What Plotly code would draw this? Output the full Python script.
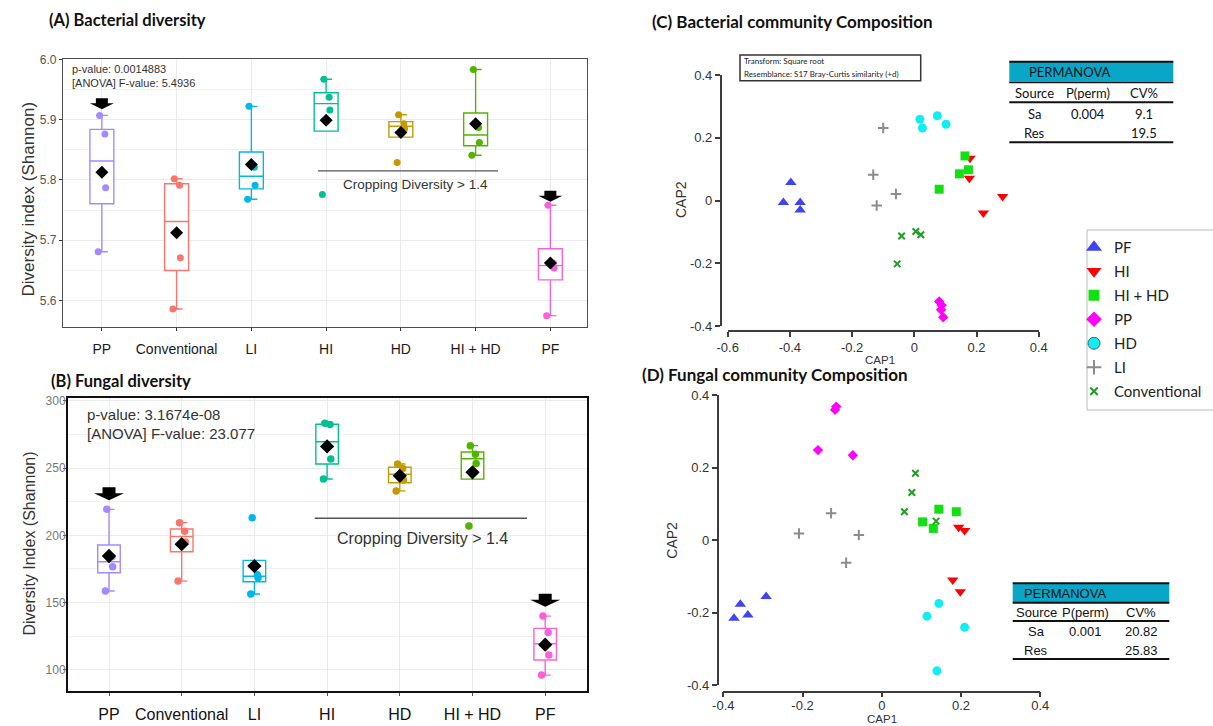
import numpy as np
import plotly.graph_objects as go

W, H = 1213, 726
def px(x): return x / W
def py(y): return 1 - y / H

# ---------------- data ----------------
categories = ['PP', 'Conventional', 'LI', 'HI', 'HD', 'HI + HD', 'PF']

# (A) bacterial Shannon diversity, 4 replicates per system (same order as categories)
bacterial_shannon = [
    [5.681, 5.787, 5.876, 5.907],
    [5.586, 5.671, 5.791, 5.802],
    [5.768, 5.791, 5.821, 5.922],
    [5.776, 5.916, 5.937, 5.967],
    [5.829, 5.885, 5.893, 5.908],
    [5.841, 5.862, 5.887, 5.983],
    [5.575, 5.654, 5.662, 5.758],
]
# (B) fungal diversity index
fungal_index = [
    [158.6, 176.7, 184.0, 219.3],
    [166.0, 195.1, 203.1, 209.4],
    [156.4, 168.5, 170.8, 213.1],
    [241.8, 256.7, 282.3, 283.2],
    [233.0, 241.1, 249.7, 253.0],
    [206.9, 253.4, 260.3, 266.6],
    [96.2, 111.1, 127.9, 140.0],
]
bact_test_text = ['p-value: 0.0014883', '[ANOVA] F-value: 5.4936']
fung_test_text = ['p-value: 3.1674e-08', '[ANOVA] F-value: 23.077']
cropping_label = 'Cropping Diversity > 1.4'

# CAP ordinations (groups in legend order)
cap_groups = ['PF', 'HI', 'HI + HD', 'PP', 'HD', 'LI', 'Conventional']
bact_cap1 = [
    [-0.397, -0.421, -0.367, -0.367],
    [0.179, 0.177, 0.284, 0.222],
    [0.163, 0.174, 0.145, 0.080],
    [0.080, 0.088, 0.086, 0.093],
    [0.018, 0.026, 0.074, 0.102],
    [-0.100, -0.132, -0.059, -0.121],
    [-0.041, 0.005, 0.021, -0.055],
]
bact_cap2 = [
    [0.057, -0.006, -0.006, -0.030],
    [0.135, 0.071, 0.013, -0.040],
    [0.142, 0.098, 0.085, 0.036],
    [-0.322, -0.334, -0.348, -0.372],
    [0.259, 0.231, 0.270, 0.243],
    [0.231, 0.082, 0.021, -0.016],
    [-0.113, -0.099, -0.109, -0.202],
]
fung_cap1 = [
    [-0.292, -0.357, -0.338, -0.373],
    [0.194, 0.209, 0.179, 0.198],
    [0.144, 0.188, 0.103, 0.130],
    [-0.115, -0.118, -0.161, -0.073],
    [0.144, 0.114, 0.209, 0.139],
    [-0.128, -0.209, -0.058, -0.090],
    [0.085, 0.076, 0.057, 0.137],
]
fung_cap2 = [
    [-0.156, -0.177, -0.207, -0.216],
    [0.035, 0.026, -0.110, -0.143],
    [0.085, 0.078, 0.050, 0.032],
    [0.368, 0.359, 0.248, 0.234],
    [-0.175, -0.210, -0.241, -0.361],
    [0.074, 0.018, 0.014, -0.063],
    [0.184, 0.131, 0.078, 0.052],
]
cap_ticks_x_C = [-0.6, -0.4, -0.2, 0, 0.2, 0.4]
cap_ticks_x_D = [-0.4, -0.2, 0, 0.2, 0.4]
cap_ticks_y = [-0.4, -0.2, 0, 0.2, 0.4]

transform_text = ['Transform: Square root', 'Resemblance: S17 Bray-Curtis similarity (+d)']
perm_header = ['Source', 'P(perm)', 'CV%']
perm_C_rows = [['Sa', '0.004', '9.1'], ['Res', '', '19.5']]
perm_D_rows = [['Sa', '0.001', '20.82'], ['Res', '', '25.83']]

# ---------------- styles ----------------
box_colors = ['#A58AFF', '#F8766D', '#00B6EB', '#00C094', '#C49A00', '#53B400', '#FB61D7']
JIT = [-0.05, 0.05, 0.04, -0.03]
cap_symbols = ['triangle-up', 'triangle-down', 'square', 'diamond', 'circle', 'cross-thin-open', 'x-thin-open']
cap_colors = ['#3F43F2', '#FF0000', '#12E012', '#FF00FF', '#10EEF2', '#8C8C8C', '#1E9E1E']
cap_sizes = [10, 10, 9, 8, 9, 7.5, 6.5]
leg_sizes = [14, 13, 11, 12, 12, 10.5, 7.5]
SANS = 'Liberation Sans, Arial'

fig = go.Figure()


def fmt_tick(v):
    s = ('%.1f' % v).rstrip('0').rstrip('.') if v != 0 else '0'
    return s


def add_box_panel(values, xa, ya, box_w, pt_size, dia_size):
    for i, vals in enumerate(values):
        v = np.sort(np.array(vals, dtype=float))
        q1, med, q3 = np.percentile(v, [25, 50, 75])
        iqr = q3 - q1
        lf = v[v >= q1 - 1.5 * iqr].min()
        uf = v[v <= q3 + 1.5 * iqr].max()
        c = box_colors[i]
        fig.add_trace(go.Box(
            x=[i], q1=[q1], median=[med], q3=[q3], lowerfence=[lf], upperfence=[uf],
            width=box_w, whiskerwidth=0.5, fillcolor='white', boxpoints=False,
            line=dict(color=c, width=1.4), xaxis=xa, yaxis=ya,
            showlegend=False, hoverinfo='skip'))
        fig.add_trace(go.Scatter(
            x=[i + JIT[j] for j in range(len(v))], y=v, mode='markers',
            marker=dict(color=c, size=pt_size), xaxis=xa, yaxis=ya,
            showlegend=False, hoverinfo='skip'))
        fig.add_trace(go.Scatter(
            x=[i], y=[v.mean()], mode='markers',
            marker=dict(color='black', size=dia_size, symbol='diamond'),
            xaxis=xa, yaxis=ya, showlegend=False, hoverinfo='skip'))


add_box_panel(bacterial_shannon, 'x', 'y', 0.32, 7, 10)
add_box_panel(fungal_index, 'x2', 'y2', 0.31, 7.5, 11)

# CAP scatter panels
for (c1, c2, xa, ya) in [(bact_cap1, bact_cap2, 'x3', 'y3'), (fung_cap1, fung_cap2, 'x4', 'y4')]:
    for g in range(len(cap_groups)):
        open_sym = cap_symbols[g].endswith('open')
        fig.add_trace(go.Scatter(
            x=c1[g], y=c2[g], mode='markers', xaxis=xa, yaxis=ya,
            marker=dict(symbol=cap_symbols[g], size=cap_sizes[g], color=cap_colors[g],
                        line=dict(color=cap_colors[g], width=2 if open_sym else 0)),
            showlegend=False, hoverinfo='skip', cliponaxis=False))

# legend entries
for g, name in enumerate(cap_groups):
    open_sym = cap_symbols[g].endswith('open')
    lc = '#2F6F80' if cap_symbols[g] == 'circle' else cap_colors[g]
    lw = 2 if open_sym else (1 if cap_symbols[g] == 'circle' else 0)
    fig.add_trace(go.Scatter(
        x=[None], y=[None], mode='markers', name=name, legendgroup=name,
        xaxis='x3', yaxis='y3',
        marker=dict(symbol=cap_symbols[g], size=leg_sizes[g], color=cap_colors[g],
                    line=dict(color=lc, width=lw))))

# ---------------- axes ----------------
grid = '#EBEBEB'
common_cat = dict(tickvals=list(range(len(categories))), ticktext=categories,
                  showgrid=True, gridcolor=grid, gridwidth=1, zeroline=False,
                  showline=True, mirror=True, ticks='outside', automargin=False)

xaxis = dict(common_cat, domain=[px(63), px(587)], range=[-0.52, 6.49], anchor='y',
             linecolor='#4D4D4D', linewidth=1.3, ticklen=3, tickcolor='#333',
             tickfont=dict(family=SANS, size=14, color='#1A1A1A'), ticklabelstandoff=6)
yaxis = dict(domain=[py(326.7), py(59.3)], range=[5.5567, 6.0], anchor='x', automargin=False,
             tickvals=[5.6, 5.7, 5.8, 5.9, 6.0], ticktext=['5.6', '5.7', '5.8', '5.9', '6.0'],
             showgrid=True, gridcolor=grid, zeroline=False, showline=True, mirror=True,
             linecolor='#4D4D4D', linewidth=1.3, ticks='outside', ticklen=3, tickcolor='#333',
             tickfont=dict(family=SANS, size=12, color='#555'),
             minor=dict(dtick=0.05, tick0=5.6, showgrid=True, gridcolor='#F0F0F0', ticks=''))
xaxis2 = dict(common_cat, domain=[px(68), px(587)], range=[-0.564, 6.575], anchor='y2',
              linecolor='#111', linewidth=2, ticklen=3, tickcolor='#555',
              tickfont=dict(family=SANS, size=16, color='#111'), ticklabelstandoff=5)
yaxis2 = dict(domain=[py(690.7), py(398)], range=[84.6, 302], anchor='x2', automargin=False,
              tickvals=[100, 150, 200, 250, 300],
              showgrid=True, gridcolor=grid, zeroline=False, showline=True, mirror=True,
              linecolor='#111', linewidth=2, ticks='outside', ticklen=3, tickcolor='#555',
              tickfont=dict(family=SANS, size=12, color='#777'), ticklabelstandoff=-5,
              minor=dict(dtick=25, tick0=100, showgrid=True, gridcolor='#F0F0F0', ticks=''))

cap_axis = dict(showgrid=False, zeroline=False, showline=True, linecolor='#3C3C3C', linewidth=1.5,
                ticks='outside', ticklen=5, tickwidth=1.5, tickcolor='#3C3C3C', automargin=False,
                tickfont=dict(family=SANS, size=13, color='#333'), anchor='free')
xaxis3 = dict(cap_axis, domain=[px(727.7), px(1038.7)], range=[-0.6, 0.4], position=py(331),
              tickvals=cap_ticks_x_C, ticktext=[fmt_tick(v) for v in cap_ticks_x_C])
yaxis3 = dict(cap_axis, domain=[py(326), py(75)], range=[-0.4, 0.4], position=px(720.7),
              tickvals=cap_ticks_y, ticktext=[fmt_tick(v) for v in cap_ticks_y])
xaxis4 = dict(cap_axis, domain=[px(723.3), px(1040.3)], range=[-0.4, 0.4], position=py(691.7),
              tickvals=cap_ticks_x_D, ticktext=[fmt_tick(v) for v in cap_ticks_x_D],
              ticklabelstandoff=-3)
yaxis4 = dict(cap_axis, domain=[py(685), py(395)], range=[-0.4, 0.4], position=px(717.7),
              tickvals=cap_ticks_y, ticktext=[fmt_tick(v) for v in cap_ticks_y])

# ---------------- annotations & shapes ----------------
ann = []
shapes = []


def txt(x, y, s, size, color='#222', family=SANS, xanchor='center', angle=0, bold=False):
    ann.append(dict(x=px(x), y=py(y), xref='paper', yref='paper', text=('<b>%s</b>' % s) if bold else s,
                    showarrow=False, xanchor=xanchor, yanchor='middle', textangle=angle,
                    font=dict(family=family, size=size, color=color)))


def hline(x0, x1, y, w, color='#111'):
    shapes.append(dict(type='line', xref='paper', yref='paper', x0=px(x0), x1=px(x1),
                       y0=py(y), y1=py(y), line=dict(color=color, width=w)))


# panel titles
txt(47, 20, '(A) Bacterial diversity', 16.5, '#111', 'Lato', 'left', bold=True)
txt(49, 381, '(B) Fungal diversity', 16.5, '#111', 'Lato', 'left', bold=True)
txt(650, 21, '(C) Bacterial community Composition', 17, '#111', 'Lato', 'left', bold=True)
txt(640, 374, '(D) Fungal community Composition', 17, '#111', 'Lato', 'left', bold=True)

# y titles
txt(28.5, 199, 'Diversity index (Shannon)', 17, '#333', angle=-90)
txt(28.5, 544, 'Diversity Index (Shannon)', 16, '#333', angle=-90)

# test statistics
txt(70, 69.3, bact_test_text[0], 11, '#333', xanchor='left')
txt(70, 83.3, bact_test_text[1], 11, '#333', xanchor='left')
txt(85, 415, fung_test_text[0], 15, '#333', xanchor='left')
txt(85, 433.3, fung_test_text[1], 15, '#333', xanchor='left')

# cropping diversity bracket
shapes.append(dict(type='line', xref='x', yref='y', x0=2.89, x1=5.30, y0=5.815, y1=5.815,
                   line=dict(color='#555', width=1.2)))
ann.append(dict(x=4.19, y=5.793, xref='x', yref='y', text=cropping_label, showarrow=False,
                font=dict(family=SANS, size=13.5, color='#333')))
shapes.append(dict(type='line', xref='x2', yref='y2', x0=2.83, x1=5.75, y0=212.6, y1=212.6,
                   line=dict(color='#555', width=1.5)))
ann.append(dict(x=4.31, y=198, xref='x2', yref='y2', text=cropping_label, showarrow=False,
                font=dict(family=SANS, size=16, color='#333')))

# arrows (tip at anchor, pointing down)
arrow_A = 'M0,0 L-12,6 L-6,6 L-6,11 L6,11 L6,6 L12,6 Z'
arrow_B = 'M0,0 L-15,7 L-6.5,7 L-6.5,13 L6.5,13 L6.5,7 L15,7 Z'
for (xr, yr, xa, ya, path) in [('x', 'y', 0, 5.917, arrow_A), ('x', 'y', 6, 5.764, arrow_A),
                               ('x2', 'y2', 0, 226.1, arrow_B), ('x2', 'y2', 6, 147.0, arrow_B)]:
    shapes.append(dict(type='path', xref=xr, yref=yr, xsizemode='pixel', ysizemode='pixel',
                       xanchor=xa, yanchor=ya, path=path, fillcolor='black', line=dict(width=0)))

# CAP axis titles
txt(880, 360, 'CAP1', 11.5, '#333')
txt(681, 200, 'CAP2', 14, '#333', angle=-90)
txt(882, 719, 'CAP1', 11.5, '#333')
txt(671.7, 540, 'CAP2', 14, '#333', angle=-90)

# transform box
shapes.append(dict(type='rect', xref='paper', yref='paper', x0=px(740), x1=px(920.7),
                   y0=py(80.7), y1=py(55), line=dict(color='#333', width=1.5)))
txt(742, 61.3, transform_text[0], 8, '#222', 'Lato', 'left')
txt(742, 74, transform_text[1], 8, '#222', 'Lato', 'left')


def perm_table(x0, x1, yt, yh, yl, yb, title_x, col_x, row_y, rows, fam, size, wh):
    shapes.append(dict(type='rect', xref='paper', yref='paper', x0=px(x0), x1=px(x1),
                       y0=py(yh), y1=py(yt), fillcolor='#0AA6C8', line=dict(width=0)))
    hline(x0, x1, yt, 2)
    hline(x0, x1, yh, wh)
    hline(x0, x1, yl, 2)
    hline(x0, x1, yb, 2)
    txt(title_x, (yt + yh) / 2, 'PERMANOVA', size, '#111', fam, 'left')
    for k, h in enumerate(perm_header):
        txt(col_x[k], row_y[0], h, size, '#111', fam)
    for r, row in enumerate(rows):
        for k, cell in enumerate(row):
            if cell:
                txt(col_x[k], row_y[r + 1], cell, size, '#111', fam)


perm_table(1009.3, 1173.3, 61.7, 82.7, 102.3, 142.3, 1027, [1034, 1088, 1144],
           [93.3, 114, 133.3], perm_C_rows, 'Lato', 13, 1.2)
perm_table(1012.7, 1169.3, 583.3, 602.7, 621, 659, 1022, [1036, 1085, 1141],
           [612.7, 631.7, 650.7], perm_D_rows, SANS, 13, 2)

# legend frame
shapes.append(dict(type='rect', xref='paper', yref='paper', x0=px(1087), x1=px(1225),
                   y0=py(410), y1=py(230), line=dict(color='#BBBBBB', width=1)))

fig.update_layout(
    width=W, height=H, margin=dict(l=0, r=0, t=0, b=0, autoexpand=False),
    paper_bgcolor='white', plot_bgcolor='white',
    xaxis=xaxis, yaxis=yaxis, xaxis2=xaxis2, yaxis2=yaxis2,
    xaxis3=xaxis3, yaxis3=yaxis3, xaxis4=xaxis4, yaxis4=yaxis4,
    annotations=ann, shapes=shapes, showlegend=True,
    legend=dict(x=px(1074), y=py(231), xanchor='left', yanchor='top',
                bgcolor='rgba(0,0,0,0)', borderwidth=0, traceorder='grouped',
                tracegroupgap=1.5, itemsizing='trace',
                font=dict(family='Lato', size=15, color='#222')),
)

fig.write_html('out.html', config={'displayModeBar': False},
               post_script="document.body.style.margin='0';")
